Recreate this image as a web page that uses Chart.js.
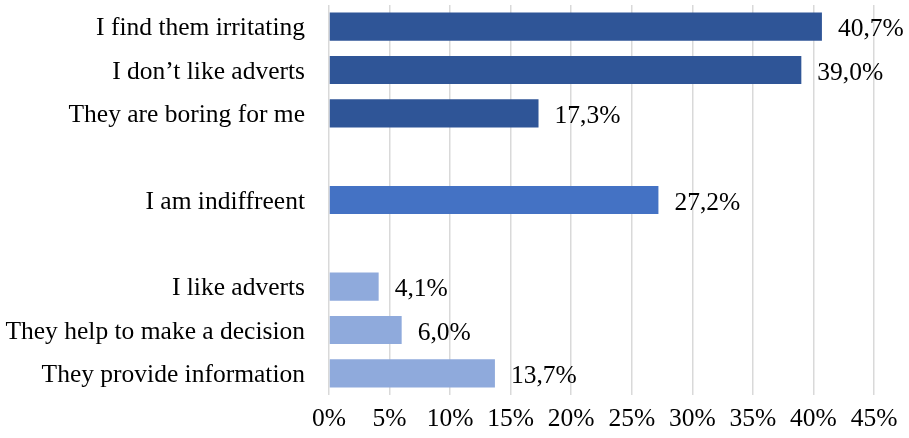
<!DOCTYPE html>
<html>
<head>
<meta charset="utf-8">
<script src="https://cdn.jsdelivr.net/npm/chart.js@4/dist/chart.umd.min.js"></script>
<style>
  html, body { margin: 0; padding: 0; background: #fff; }
  #wrap { width: 909px; height: 438px; }
</style>
</head>
<body>
<div id="wrap"><canvas id="chart"></canvas></div>
<script>
// empty strings are the spacer rows between groups
const categories = [
    "I find them irritating",
    "I don\u2019t like adverts",
    "They are boring for me",
    "",
    "I am indiffreent",
    "",
    "I like adverts",
    "They help to make a decision",
    "They provide information"
];
const values = [40.7, 39.0, 17.3, null, 27.2, null, 4.1, 6.0, 13.7];
const barColors = ["#2F5597", "#2F5597", "#2F5597", null, "#4472C4", null, "#8FAADC", "#8FAADC", "#8FAADC"];
const xTicks = [0, 5, 10, 15, 20, 25, 30, 35, 40, 45];

const FONT = "'Liberation Serif', 'Times New Roman', serif";
const FONT_SIZE = 25.5;

// value labels to the right of each bar, e.g. "40,7%"
const valueLabels = {
    id: 'valueLabels',
    afterDatasetsDraw(chart) {
        const ctx = chart.ctx;
        const meta = chart.getDatasetMeta(0);
        ctx.save();
        ctx.font = FONT_SIZE + "px " + FONT;
        ctx.fillStyle = "#000";
        ctx.textBaseline = "middle";
        ctx.textAlign = "left";
        meta.data.forEach((bar, i) => {
            if (values[i] == null) return;
            const txt = values[i].toFixed(1).replace(".", ",") + "%";
            ctx.fillText(txt, bar.x + 16, bar.y + 3);
        });
        ctx.restore();
    }
};

new Chart(document.getElementById("chart"), {
    type: 'bar',
    data: {
        labels: categories,
        datasets: [{
            data: values,
            backgroundColor: barColors,
            barPercentage: 0.65,
            categoryPercentage: 1
        }]
    },
    options: {
        indexAxis: 'y',
        responsive: true,
        maintainAspectRatio: false,
        animation: false,
        layout: { padding: { top: 5, right: 35, left: 0, bottom: 0 } },
        plugins: {
            legend: { display: false },
            tooltip: { enabled: false }
        },
        scales: {
            x: {
                min: 0,
                max: 45,
                afterBuildTicks(scale) {
                    scale.ticks = xTicks.map(v => ({ value: v }));
                },
                afterFit(scale) { scale.height = 43; },
                border: { display: false },
                grid: { color: "#D9D9D9", lineWidth: 1.5, drawTicks: true, tickLength: 6, tickColor: "transparent" },
                ticks: {
                    color: "#000",
                    padding: 3,
                    font: { family: FONT, size: FONT_SIZE },
                    callback: v => v + "%"
                }
            },
            y: {
                afterFit(scale) {
                    scale.width = 329;
                    // no extra room above the first row
                    scale.paddingTop = 0;
                    scale.paddingBottom = 0;
                },
                border: { display: false },
                // transparent ticks give the gap between labels and bars
                grid: { display: true, drawOnChartArea: false, drawTicks: true, tickLength: 24, tickColor: "transparent" },
                ticks: {
                    color: "#000",
                    padding: 0,
                    labelOffset: 2,
                    autoSkip: false,
                    font: { family: FONT, size: FONT_SIZE }
                }
            }
        }
    },
    plugins: [valueLabels]
});
</script>
</body>
</html>
